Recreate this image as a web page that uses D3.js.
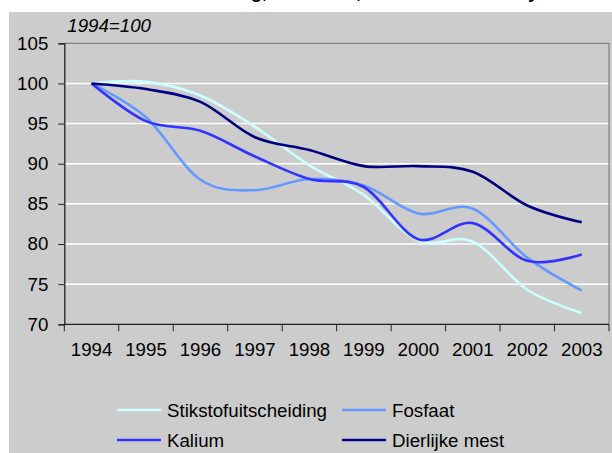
<!DOCTYPE html>
<html>
<head>
<meta charset="utf-8">
<script src="https://cdn.jsdelivr.net/npm/d3@7"></script>
<style>
  body { margin: 0; background: #ffffff; }
  svg { display: block; font-family: "Liberation Sans", Arial, sans-serif; }
</style>
</head>
<body>
<div id="chart"></div>
<script>
// chart data (index, 1994=100)
let years = ["1994", "1995", "1996", "1997", "1998", "1999", "2000", "2001", "2002", "2003"];
let stikstof = [100, 100.2, 98.5, 94.6, 89.8, 86.1, 80.4, 80.3, 74.3, 71.4];
let fosfaat = [100, 95.8, 88.0, 86.7, 88.1, 87.3, 83.8, 84.4, 78.3, 74.2];
let kalium = [100, 95.3, 94.1, 90.9, 88.1, 87.1, 80.6, 82.6, 77.9, 78.7];
let mest = [100, 99.3, 97.7, 93.3, 91.7, 89.7, 89.7, 89.0, 84.8, 82.7];
let seriesNames = ["Stikstofuitscheiding", "Fosfaat", "Kalium", "Dierlijke mest"];
let yTicks = [70, 75, 80, 85, 90, 95, 100, 105];

let svgWidth = 612;
let svgHeight = 453;

let margin = {
    top: 43.3,
    right: 3,
    bottom: 128.7,
    left: 64.3
};

let width = svgWidth - margin.left - margin.right;
let height = svgHeight - margin.top - margin.bottom;

let colors = ["#ccffff", "#6699ff", "#3333ff", "#000080"];
let allSeries = [stikstof, fosfaat, kalium, mest];

let svg = d3.select("#chart")
    .append("svg")
    .attr("width", svgWidth)
    .attr("height", svgHeight);

// grey panel behind everything
svg.append("rect")
    .attr("x", 9)
    .attr("y", 12)
    .attr("width", svgWidth - 9)
    .attr("height", svgHeight - 12)
    .attr("fill", "#cccccc");

// title, only the descenders stay inside the picture
let title = svg.append("text")
    .attr("x", 0)
    .attr("y", -2)
    .attr("font-size", "19px")
    .attr("font-weight", "bold")
    .attr("fill", "#000")
    .text("Mineralenuitscheiding, nationaal, index 1994-2003 systeem");

// shift so the "g," lands where it is in the original
let firstWord = title.node().getSubStringLength(0, 21);
title.attr("x", 262 - firstWord);

let chartGroup = svg.append("g")
    .attr("transform", `translate(${margin.left}, ${margin.top})`);

// scales
let xScale = d3.scaleBand()
    .domain(years)
    .range([0, width]);

let yScale = d3.scaleLinear()
    .domain([70, 105])
    .range([height, 0]);

// white gridlines
chartGroup.selectAll(".grid")
    .data(yTicks.filter(d => d > 70 && d < 105))
    .enter()
    .append("line")
    .attr("x1", 0)
    .attr("x2", width)
    .attr("y1", d => yScale(d))
    .attr("y2", d => yScale(d))
    .attr("stroke", "#ffffff")
    .attr("stroke-width", 1.5);

// plot border top and right
chartGroup.append("path")
    .attr("d", `M0,0H${width}V${height}`)
    .attr("fill", "none")
    .attr("stroke", "#808080")
    .attr("stroke-width", 1.2);

// y axis
let leftAxis = d3.axisLeft(yScale)
    .tickValues(yTicks)
    .tickSize(6)
    .tickPadding(10);

let yAxis = chartGroup.append("g")
    .call(leftAxis);

// x axis: ticks between the years, labels in the middle
let bottomAxis = d3.axisBottom(xScale)
    .tickSize(0)
    .tickPadding(18);

let xAxis = chartGroup.append("g")
    .attr("transform", `translate(0, ${height})`)
    .call(bottomAxis);

xAxis.selectAll(".x-tick")
    .data(d3.range(years.length + 1))
    .enter()
    .append("line")
    .attr("x1", i => i * xScale.step())
    .attr("x2", i => i * xScale.step())
    .attr("y1", 0)
    .attr("y2", 7)
    .attr("stroke", "#222");

[yAxis, xAxis].forEach(function(ax) {
    ax.select(".domain").attr("stroke", "#222").attr("stroke-width", 1.3);
    ax.selectAll(".tick line").attr("stroke", "#222");
    ax.selectAll("text")
        .attr("font-size", "18.7px")
        .attr("font-family", "Liberation Sans, Arial, sans-serif")
        .attr("fill", "#000");
});
xAxis.select(".domain").attr("d", `M0,0H${width}`);

// index note
chartGroup.append("text")
    .attr("x", 3)
    .attr("y", -11.6)
    .attr("font-size", "18.7px")
    .attr("font-style", "italic")
    .text("1994=100");

// lines
let line = d3.line()
    .x((d, i) => xScale(years[i]) + xScale.bandwidth() / 2)
    .y(d => yScale(d))
    .curve(d3.curveCatmullRom.alpha(0));

chartGroup.selectAll(".series")
    .data(allSeries)
    .enter()
    .append("path")
    .attr("d", d => line(d))
    .attr("fill", "none")
    .attr("stroke", (d, i) => colors[i])
    .attr("stroke-width", 2.6)
    .attr("stroke-linejoin", "round");

// legend in two columns
let legendPos = [[117, 410], [342, 410], [117, 440], [342, 440]];

let legend = svg.selectAll(".legend")
    .data(seriesNames)
    .enter()
    .append("g")
    .attr("transform", (d, i) => `translate(${legendPos[i][0]}, ${legendPos[i][1]})`);

legend.append("line")
    .attr("x1", 0)
    .attr("x2", 44)
    .attr("y1", 0)
    .attr("y2", 0)
    .attr("stroke", (d, i) => colors[i])
    .attr("stroke-width", 2.6);

legend.append("text")
    .attr("x", 50)
    .attr("y", 6.5)
    .attr("font-size", "18.7px")
    .attr("fill", "#000")
    .text(d => d);
</script>
</body>
</html>
